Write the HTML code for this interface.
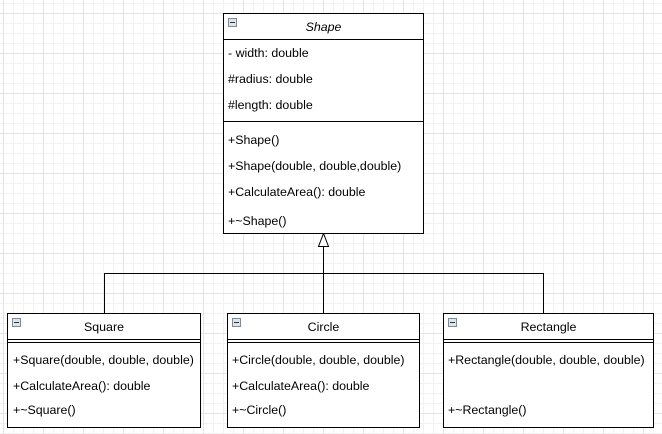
<!DOCTYPE html>
<html><head><style>
html,body{margin:0;padding:0}
body{width:662px;height:434px;position:relative;overflow:hidden;background:#fff;
background-image:linear-gradient(#e4e4e4 1px,transparent 1px),linear-gradient(90deg,#e4e4e4 1px,transparent 1px),linear-gradient(#f1f1f1 1px,transparent 1px),linear-gradient(90deg,#f1f1f1 1px,transparent 1px);
background-size:40px 40px,40px 40px,10px 10px,10px 10px;background-position:3px 13px,3px 13px,3px 3px,3px 3px;
font-family:"Liberation Sans",Arial,sans-serif;font-size:12.4px;color:#000}
.box{position:absolute;border:1px solid #000;background:#fff;box-sizing:border-box}
.t{position:absolute;white-space:nowrap;line-height:14px}
.ic{position:absolute;left:4px;top:4px;width:7px;height:7px;border:1px solid #7a8a9a;background:#dde4ec}
.ic:after{content:"";position:absolute;left:1px;top:3px;width:5px;height:1px;background:#333}
.h{position:absolute;left:0;right:0;border-top:1px solid #000}
</style></head><body>
<svg width="662" height="434" style="position:absolute;left:0;top:0">
<path d="M323.5 246 V273.5 M104.5 273.5 H543.5 M104.5 273 V313 M323.5 273 V313 M543.5 273 V313" stroke="#000" fill="none"/>
<path d="M323.5 233.5 L318.5 246.5 L328.5 246.5 Z" stroke="#000" fill="#fff"/>
</svg>
<div class="box" style="left:223px;top:13px;width:201px;height:221px">
<div class="ic"></div>
<div class="t" style="left:0;right:0;top:6px;text-align:center;font-style:italic">Shape</div>
<div class="h" style="top:25px"></div>
<div class="t" style="left:4px;top:32px">- width: double</div>
<div class="t" style="left:4px;top:58px">#radius: double</div>
<div class="t" style="left:4px;top:84px">#length: double</div>
<div class="h" style="top:107px"></div>
<div class="t" style="left:4px;top:119px">+Shape()</div>
<div class="t" style="left:4px;top:145px">+Shape(double, double,double)</div>
<div class="t" style="left:4px;top:171px">+CalculateArea(): double</div>
<div class="t" style="left:4px;top:200px">+~Shape()</div>
</div>
<div class="box" style="left:7px;top:313px;width:194px;height:115px">
<div class="ic"></div>
<div class="t" style="left:0;right:0;top:6px;text-align:center">Square</div>
<div class="h" style="top:25px"></div><div class="h" style="top:28px"></div>
<div class="t" style="left:5px;top:39px">+Square(double, double, double)</div>
<div class="t" style="left:5px;top:65px">+CalculateArea(): double</div>
<div class="t" style="left:5px;top:89px">+~Square()</div>
</div>
<div class="box" style="left:227px;top:313px;width:193px;height:115px">
<div class="ic"></div>
<div class="t" style="left:0;right:0;top:6px;text-align:center">Circle</div>
<div class="h" style="top:25px"></div><div class="h" style="top:28px"></div>
<div class="t" style="left:4px;top:39px">+Circle(double, double, double)</div>
<div class="t" style="left:4px;top:65px">+CalculateArea(): double</div>
<div class="t" style="left:4px;top:89px">+~Circle()</div>
</div>
<div class="box" style="left:443px;top:313px;width:211px;height:115px">
<div class="ic"></div>
<div class="t" style="left:0;right:0;top:6px;text-align:center">Rectangle</div>
<div class="h" style="top:25px"></div><div class="h" style="top:28px"></div>
<div class="t" style="left:4px;top:39px">+Rectangle(double, double, double)</div>
<div class="t" style="left:4px;top:89px">+~Rectangle()</div>
</div>
</body></html>
